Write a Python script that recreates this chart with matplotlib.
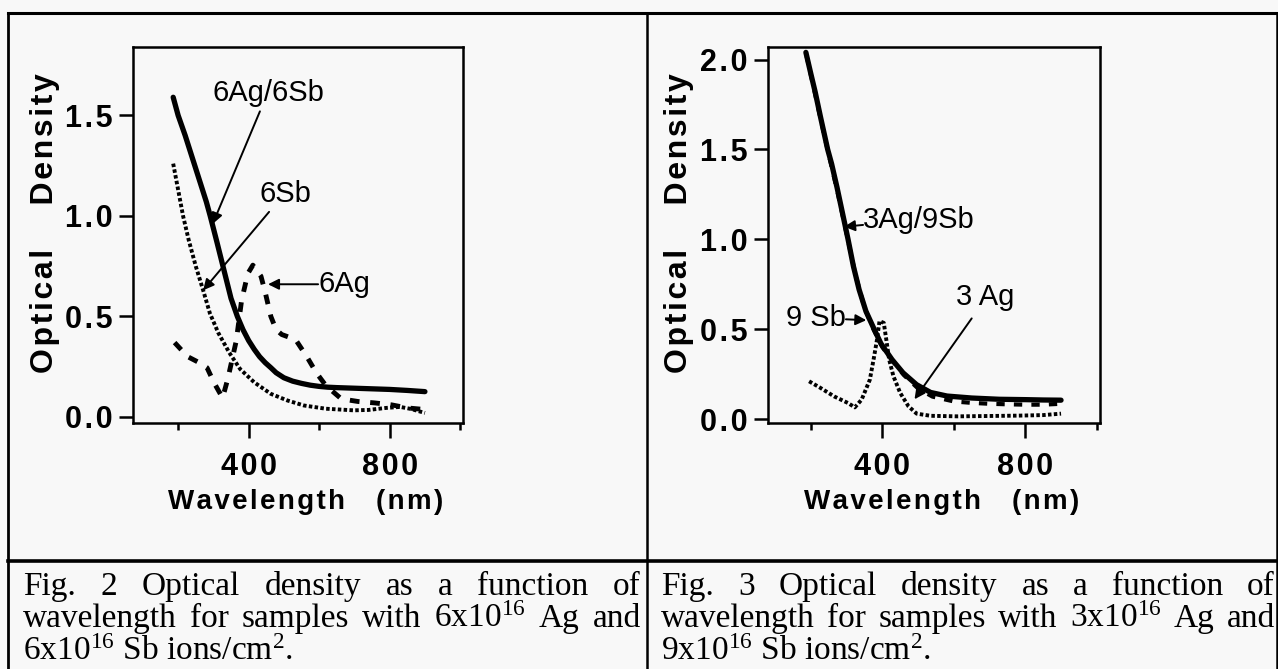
import matplotlib
matplotlib.use("Agg")
import matplotlib.pyplot as plt

W, H = 1278, 669
BG = "#f8f8f8"
HAIR = "\u200a"

# Fig. 2: 6x10^16 Ag and 6x10^16 Sb
wl_6ag6sb = [186, 200, 220, 240, 260, 280, 291, 310, 330, 350, 368, 384, 400, 416, 431,
             447, 463, 478, 500, 525, 550, 575, 600, 625, 650, 700, 750, 800, 850, 900]
od_6ag6sb = [1.59, 1.50, 1.40, 1.29, 1.18, 1.07, 1.00, 0.87, 0.73, 0.59, 0.50, 0.434, 0.38, 0.336, 0.30,
             0.27, 0.245, 0.22, 0.195, 0.178, 0.167, 0.158, 0.152, 0.148, 0.146, 0.143, 0.140, 0.137, 0.132, 0.126]

wl_6sb = [186, 200, 214, 230, 250, 271, 290, 314, 345, 376, 416, 463, 510, 557, 619,
          698, 740, 790, 830, 860, 900]
od_6sb = [1.26, 1.13, 1.00, 0.88, 0.75, 0.63, 0.516, 0.418, 0.32, 0.238, 0.172, 0.115, 0.082, 0.057, 0.041,
          0.033, 0.035, 0.045, 0.05, 0.04, 0.02]

wl_6ag = [190, 227, 260, 282, 302, 326, 341, 365, 380, 392, 400, 412, 435, 447, 463,
          478, 494, 533, 565, 592, 619, 663, 710, 757, 806, 850, 900]
od_6ag = [0.37, 0.30, 0.27, 0.245, 0.17, 0.095, 0.19, 0.38, 0.58, 0.67, 0.72, 0.755, 0.70, 0.62, 0.50,
          0.434, 0.41, 0.385, 0.30, 0.22, 0.156, 0.09, 0.077, 0.07, 0.06, 0.045, 0.037]

# Fig. 3: 3x10^16 Ag and 9x10^16 Sb
wl_3ag9sb = [186, 200, 212, 227, 247, 258, 273, 288, 304, 319, 335, 354, 377, 396, 427,
             458, 496, 535, 581, 650, 727, 800, 850, 900]
od_3ag9sb = [2.04, 1.92, 1.82, 1.68, 1.50, 1.42, 1.29, 1.15, 1.00, 0.85, 0.72, 0.60, 0.50, 0.42, 0.331,
             0.257, 0.191, 0.148, 0.128, 0.117, 0.110, 0.108, 0.106, 0.105]

wl_9sb = [188, 205, 225, 250, 275, 300, 325, 350, 375, 400, 430, 460, 500, 540, 600,
          650, 700, 750, 800, 850, 900]
od_9sb = [2.02, 1.87, 1.69, 1.47, 1.26, 1.03, 0.80, 0.62, 0.50, 0.40, 0.32, 0.245, 0.17, 0.125, 0.098,
          0.09, 0.085, 0.082, 0.08, 0.08, 0.085]

wl_3ag = [195, 227, 265, 304, 323, 342, 365, 377, 385, 392, 404, 411, 419, 431, 450,
          473, 496, 535, 611, 700, 781, 850, 900]
od_3ag = [0.21, 0.173, 0.126, 0.089, 0.065, 0.108, 0.219, 0.349, 0.442, 0.545, 0.535, 0.442, 0.331, 0.238, 0.145,
          0.071, 0.03, 0.018, 0.015, 0.017, 0.019, 0.022, 0.03]

x_major = [400, 800]
x_minor = [200, 600, 1000]
y_ticks_2 = [0.0, 0.5, 1.0, 1.5]
y_ticks_3 = [0.0, 0.5, 1.0, 1.5, 2.0]

caption_2 = [["Fig.", "2", "Optical", "density", "as", "a", "function", "of"],
             ["wavelength", "for", "samples", "with", "6x10$^{16}$", "Ag", "and"],
             ["6x10$^{16}$ Sb ions/cm$^{2}$."]]
caption_3 = [["Fig.", "3", "Optical", "density", "as", "a", "function", "of"],
             ["wavelength", "for", "samples", "with", "3x10$^{16}$", "Ag", "and"],
             ["9x10$^{16}$ Sb ions/cm$^{2}$."]]

plt.rcParams['font.family'] = ['Liberation Sans', 'DejaVu Sans']
plt.rcParams['mathtext.default'] = 'regular'

TICK_FS = 22
LABEL_FS = 20
YLABEL_FS = 23
NOTE_FS = 21
CAP_FS = 24


def spaced(s):
    return HAIR.join(s)


fig = plt.figure(figsize=(W / 100, H / 100), dpi=100, facecolor=BG)

# pixel-coordinate layer for the frame and the captions
frame = fig.add_axes([0, 0, 1, 1])
frame.set_xlim(0, W)
frame.set_ylim(H, 0)
frame.axis('off')
frame.plot([8, W], [13, 13], color='k', lw=2.2)
frame.plot([8, 8], [13, H], color='k', lw=2.0)
frame.plot([647, 647], [13, H], color='k', lw=1.8)
frame.plot([W - 1, W - 1], [13, H], color='k', lw=1.8)
frame.plot([8, W], [561, 561], color='k', lw=2.6)


def px_axes(x0, y0, x1, y1):
    return fig.add_axes([x0 / W, 1 - y1 / H, (x1 - x0) / W, (y1 - y0) / H])


def style(ax, xlim, ylim, yticks):
    ax.set_facecolor('none')
    ax.set_xlim(xlim)
    ax.set_ylim(ylim)
    ax.set_xticks(x_major)
    ax.set_xticks(x_minor, minor=True)
    ax.set_xticklabels([spaced(str(t)) for t in x_major])
    ax.set_yticks(yticks)
    ax.set_yticklabels([spaced(f"{t:.1f}") for t in yticks])
    ax.tick_params(axis='x', which='major', direction='out', length=11, width=1.8,
                   pad=10, labelsize=TICK_FS)
    ax.tick_params(axis='x', which='minor', direction='out', length=5, width=1.8)
    ax.tick_params(axis='y', which='major', direction='out', length=10, width=1.8,
                   pad=5, labelsize=TICK_FS)
    for lab in ax.get_xticklabels() + ax.get_yticklabels():
        lab.set_fontweight('bold')
    for s in ax.spines.values():
        s.set_linewidth(1.8)
    ax.text(-0.268, 0.532, spaced("Optical") + "     " + spaced("Density"), rotation=90,
            transform=ax.transAxes, ha='center', va='center', fontsize=YLABEL_FS,
            fontweight='bold')
    ax.text(0.524, -0.21, spaced("Wavelength") + "    " + spaced("(nm)"),
            transform=ax.transAxes, ha='center', va='center', fontsize=LABEL_FS,
            fontweight='bold')


def note(ax, text, pos, tail, head, ha='center'):
    ax.text(pos[0], pos[1], text, fontsize=NOTE_FS, ha=ha, va='center')
    ax.annotate('', xy=head, xytext=tail,
                arrowprops=dict(arrowstyle='-|>', color='k', lw=1.4, mutation_scale=16,
                                shrinkA=0, shrinkB=0))


ax1 = px_axes(133, 47, 463, 423)
style(ax1, (72, 1008), (-0.03, 1.84), y_ticks_2)
ax1.plot(wl_6ag6sb, od_6ag6sb, color='k', lw=3.8, solid_capstyle='round')
ax1.plot(wl_6sb, od_6sb, color='k', lw=2.8, ls=(0, (0.9, 0.6)))
ax1.plot(wl_6ag, od_6ag, color='k', lw=3.5, ls=(0, (2, 2.2)))
note(ax1, "6Ag/6Sb", (455, 1.61), (432, 1.52), (298, 0.96))
note(ax1, "6Sb", (505, 1.11), (458, 1.02), (271, 0.63))
note(ax1, "6Ag", (597, 0.66), (597, 0.66), (455, 0.66), ha='left')

ax2 = px_axes(768, 47, 1100, 423)
style(ax2, (80, 1009), (-0.022, 2.07), y_ticks_3)
ax2.plot(wl_3ag9sb, od_3ag9sb, color='k', lw=3.8, solid_capstyle='round')
ax2.plot(wl_9sb, od_9sb, color='k', lw=3.0, ls=(0, (2, 2.2)))
ax2.plot(wl_3ag, od_3ag, color='k', lw=2.8, ls=(0, (0.9, 0.6)))
note(ax2, "3Ag/9Sb", (346, 1.11), (346, 1.08), (293, 1.07), ha='left')
note(ax2, "9 Sb", (298, 0.56), (298, 0.555), (355, 0.55), ha='right')
note(ax2, "3 Ag", (689, 0.68), (650, 0.56), (490, 0.11))

renderer = fig.canvas.get_renderer()


def caption(lines, x0, x1, baselines):
    for words, y in zip(lines, baselines):
        texts = [frame.text(x0, y, w, family=['Liberation Serif', 'DejaVu Serif'],
                            fontsize=CAP_FS, ha='left', va='baseline') for w in words]
        if len(texts) == 1 or words is lines[-1]:
            continue
        widths = [t.get_window_extent(renderer).width for t in texts]
        gap = (x1 - x0 - sum(widths)) / (len(texts) - 1)
        x = x0
        for t, w in zip(texts, widths):
            t.set_x(x)
            x += w + gap


caption(caption_2, 23, 641, [595, 627, 660])
caption(caption_3, 661, 1275, [595, 627, 660])

fig.savefig("out.png", dpi=100, facecolor=BG)
